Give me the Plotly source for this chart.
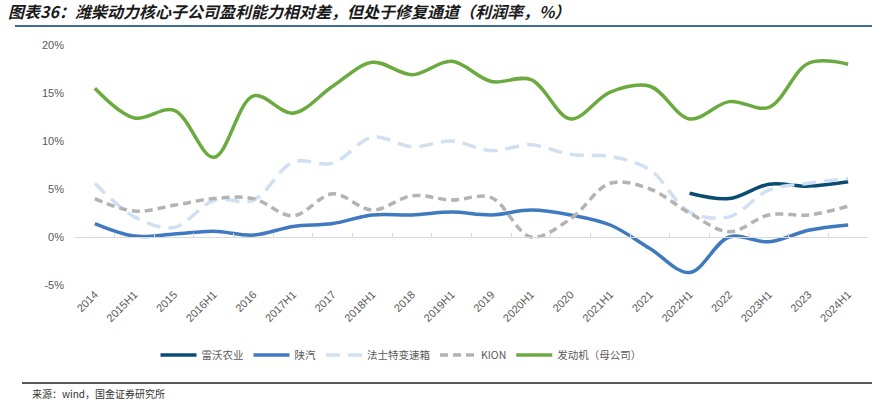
import plotly.graph_objects as go

categories = ["2014", "2015H1", "2015", "2016H1", "2016", "2017H1", "2017", "2018H1",
              "2018", "2019H1", "2019", "2020H1", "2020", "2021H1", "2021", "2022H1",
              "2022", "2023H1", "2023", "2024H1"]

leiwo = [None] * 15 + [4.55, 4.0, 5.5, 5.3, 5.75]
shaanqi = [1.4, 0.1, 0.3, 0.6, 0.2, 1.1, 1.4, 2.3, 2.3, 2.6, 2.3, 2.8, 2.3, 1.25, -1.2,
           -3.7, 0.0, -0.5, 0.7, 1.25]
fast = [5.6, 2.1, 1.0, 3.8, 3.85, 7.8, 7.7, 10.4, 9.4, 10.0, 9.0, 9.6, 8.6, 8.4, 7.0,
        2.6, 2.1, 4.9, 5.6, 6.1]
kion = [4.0, 2.7, 3.3, 4.0, 4.0, 2.2, 4.5, 2.8, 4.3, 3.85, 4.1, 0.0, 1.9, 5.6, 5.0,
        2.5, 0.55, 2.3, 2.3, 3.2]
engine = [15.5, 12.4, 13.2, 8.3, 14.7, 12.9, 15.7, 18.2, 16.9, 18.3, 16.2, 16.4, 12.3,
          15.1, 15.7, 12.3, 14.1, 13.5, 18.1, 18.0]

y_ticks = [-5, 0, 5, 10, 15, 20]
y_tick_text = ["-5%", "0%", "5%", "10%", "15%", "20%"]

series = [
    ("雷沃农业", leiwo, "#0b4d72", "solid"),
    ("陕汽", shaanqi, "#3f7ac0", "solid"),
    ("法士特变速箱", fast, "#cfe0f2", "14px,8px"),
    ("KION", kion, "#b3b3b3", "8px,5px"),
    ("发动机（母公司）", engine, "#6aaa3e", "solid"),
]

fig = go.Figure()
for name, vals, color, dash in series:
    fig.add_trace(go.Scatter(
        x=categories, y=vals, name=name, mode="lines",
        line=dict(color=color, width=3.5, dash=dash, shape="spline", smoothing=1.0),
        connectgaps=False,
    ))

# invisible trace for the zero-line axis
fig.add_trace(go.Scatter(x=categories, y=[None] * len(categories), xaxis="x2",
                         showlegend=False, hoverinfo="skip"))

L, R, T, B = 75, 4, 45, 128
W, H = 872, 413
pw, ph = W - L - R, H - T - B

def px(xp):
    return (xp - L) / pw

def py(yp):
    return (H - B - yp) / ph

fig.update_layout(
    width=W, height=H,
    margin=dict(l=L, r=R, t=T, b=B),
    paper_bgcolor="white", plot_bgcolor="white",
    font=dict(family="Liberation Sans, Arial", color="#595959"),
    title=dict(
        text="图表36：潍柴动力核心子公司盈利能力相对差，但处于修复通道（利润率，%）",
        x=8 / W, xref="container", xanchor="left",
        y=1 - 12 / H, yref="container", yanchor="middle",
        font=dict(family="Noto Sans CJK SC", size=16, color="#1a1a1a",
                  weight="bold", style="italic"),
    ),
    xaxis=dict(
        type="category", categoryorder="array", categoryarray=categories,
        range=[-0.5, len(categories) - 0.5],
        showline=False, showgrid=False, zeroline=False, ticks="",
        tickangle=-45, tickfont=dict(size=11, color="#595959"),
    ),
    xaxis2=dict(
        type="category", categoryorder="array", categoryarray=categories,
        range=[-0.5, len(categories) - 0.5],
        overlaying="x", anchor="free", position=0.2,
        showline=True, linecolor="#d9d9d9", linewidth=1,
        ticks="inside", tickson="boundaries", ticklen=4, tickcolor="#d9d9d9",
        showticklabels=False, showgrid=False, zeroline=False,
    ),
    yaxis=dict(
        range=[-5, 20], tickvals=y_ticks, ticktext=y_tick_text,
        showgrid=False, zeroline=False, showline=False,
        tickfont=dict(size=11, color="#595959"), ticklabelstandoff=10,
    ),
    legend=dict(
        orientation="h", x=px(401), xanchor="center", y=py(355), yanchor="middle",
        font=dict(family="Noto Sans CJK SC", size=10.5, color="#595959"),
        itemwidth=36, traceorder="normal",
    ),
    shapes=[
        dict(type="line", xref="paper", yref="paper", x0=px(15), x1=px(872),
             y0=py(26), y1=py(26), line=dict(color="#3b6e96", width=2)),
        dict(type="line", xref="paper", yref="paper", x0=px(22), x1=px(872),
             y0=py(383), y1=py(383), line=dict(color="#222222", width=1.5)),
    ],
    annotations=[
        dict(text="来源：wind，国金证券研究所", xref="paper", yref="paper",
             x=px(30), y=py(393), xanchor="left", yanchor="middle", showarrow=False,
             font=dict(family="Noto Sans CJK SC", size=10, color="#333333")),
    ],
)

fig.write_html("out.html", config={"displayModeBar": False},
               post_script="document.body.style.margin='0';")
